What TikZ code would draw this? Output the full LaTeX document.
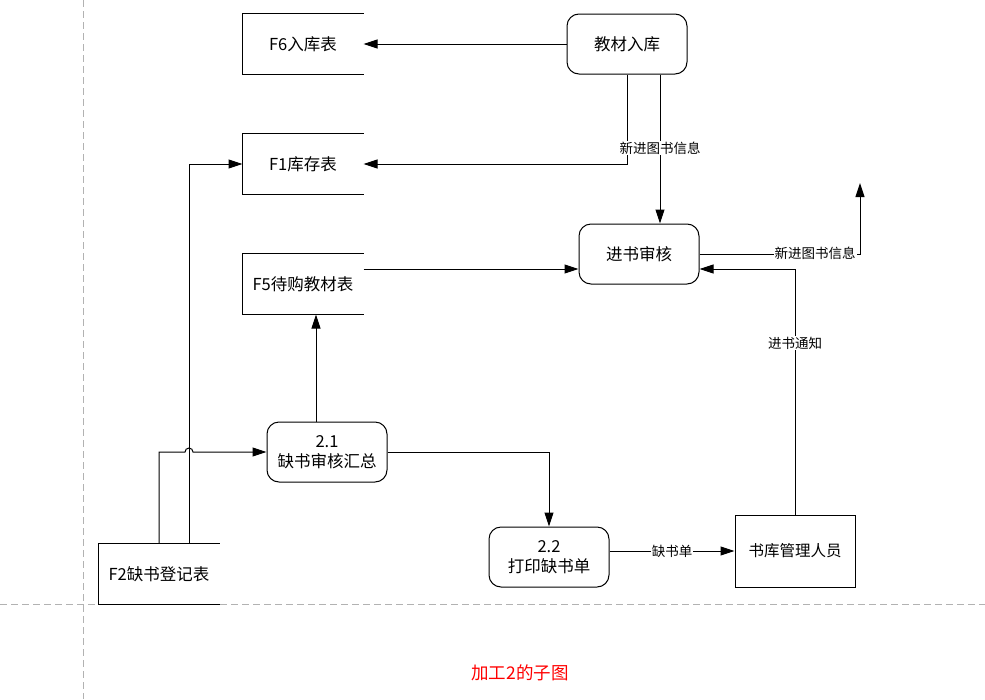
\documentclass[tikz,border=0pt]{standalone}
\usepackage{fontspec}
\setmainfont{Noto Sans CJK SC}
\usetikzlibrary{arrows.meta}
\tikzset{
  store/.style={minimum width=120pt,minimum height=60pt,inner sep=0pt,font=\fontsize{16.5pt}{19pt}\selectfont},
  proc/.style={draw,rounded corners=12pt,minimum width=120pt,minimum height=60pt,inner sep=0pt,align=center,font=\fontsize{16.5pt}{19.5pt}\selectfont},
  ent/.style={draw,minimum width=120pt,minimum height=72pt,inner sep=0pt,font=\fontsize{15.5pt}{19pt}\selectfont},
  arr/.style={-{Triangle[length=14pt,width=9pt]}},
  lbl/.style={fill=white,inner sep=1pt,font=\fontsize{13.5pt}{16pt}\selectfont},
  guide/.style={draw=black!30,dash pattern=on 7pt off 4pt,line width=1pt},
}
\begin{document}
\begin{tikzpicture}[x=1pt,y=-1pt,line width=1pt]
\useasboundingbox (0,0) rectangle (985,699);
% guides
\draw[guide] (83,0) -- (83,699);
\draw[guide] (0,604) -- (985,604);
% stores
\node[store] (f6) at (303,44) {F6入库表};
\node[store] (f1) at (303,164) {F1库存表};
\node[store] (f5) at (303,284) {F5待购教材表};
\node[store] (f2) at (159,574) {F2缺书登记表};
\foreach \s in {f6,f1,f5,f2}
  \draw (\s.north east) -- (\s.north west) -- (\s.south west) -- (\s.south east);
% processes
\node[proc] (jc) at (627,44) {教材入库};
\node[proc] (jsh) at (639,254) {进书审核};
\node[proc] (p21) at (327,452) {2.1\\缺书审核汇总};
\node[proc] (p22) at (549,557) {2.2\\打印缺书单};
\node[ent] (sk) at (795,551) {书库管理人员};
\coordinate (out1) at (860,183);
% connectors
\draw[arr] (jc.west) -- (f6.east);
\draw[arr] (jc.south) |- (f1.east);
\draw[arr] ([xshift=33pt]jc.south) -- ([xshift=33pt]jc.south |- jsh.north);
\node[lbl] (l1) at (660,148) {新进图书信息};
\draw[arr] (f5.east |- 0,269) -- (jsh.west |- 0,269);
\draw[arr] (jsh.east) -| (out1);
\node[lbl] (l2) at (815,253) {新进图书信息};
\draw[arr] (sk.north) |- ([yshift=-15pt]jsh.east);
\node[lbl] (l3) at (795,343) {进书通知};
\draw[arr] ([xshift=-11pt]p21.north) -- ([xshift=-11pt]p21.north |- f5.south);
\draw[arr] (p21.east) -| (p22.north);
\draw[arr] (p22.east |- sk.west) -- (sk.west);
\node[lbl] (l4) at (672,551) {缺书单};
\draw[arr] (f2.north) -- (f2.north |- p21.west) -- ([xshift=26pt]f2.north |- p21.west)
   arc[start angle=180,end angle=0,radius=4pt] -- (p21.west);
\draw[arr] ([xshift=30pt]f2.north) |- (f1.west);
% caption
\node[text=red,font=\fontsize{17.5pt}{20pt}\selectfont] (cap) at (520,673) {加工2的子图};
\end{tikzpicture}
\end{document}
